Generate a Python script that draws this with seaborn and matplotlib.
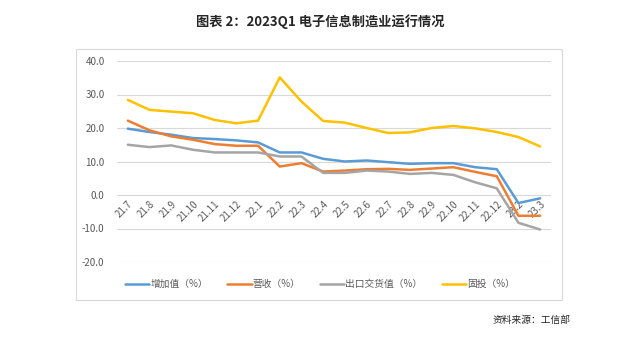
import numpy as np
import pandas as pd
import seaborn as sns
import matplotlib.pyplot as plt
from matplotlib.patches import Rectangle

months = ["21.7", "21.8", "21.9", "21.10", "21.11", "21.12",
          "22.1", "22.2", "22.3", "22.4", "22.5", "22.6", "22.7", "22.8",
          "22.9", "22.10", "22.11", "22.12", "23.2", "23.3"]

added_value = [19.8, 18.8, 18.0, 17.0, 16.7, 16.3, 15.7, 12.7, 12.7, 10.8,
               10.0, 10.3, 9.8, 9.3, 9.5, 9.5, 8.3, 7.7, -2.4, -1.0]
revenue = [22.2, 19.3, 17.5, 16.5, 15.2, 14.7, 14.7, 8.5, 9.5, 7.0,
           7.3, 7.7, 7.8, 7.5, 7.9, 8.3, 6.9, 5.6, -6.2, -6.2]
export_value = [15.0, 14.3, 14.8, 13.5, 12.7, 12.7, 12.7, 11.5, 11.5, 6.6,
                6.6, 7.3, 7.0, 6.3, 6.6, 6.0, 3.8, 2.0, -8.3, -10.3]
investment = [28.4, 25.4, 24.9, 24.4, 22.4, 21.4, 22.2, 35.1, 27.9, 22.1,
              21.6, 20.0, 18.5, 18.7, 20.0, 20.6, 19.9, 18.8, 17.3, 14.5]

series_names = ["增加值（%）", "营收（%）", "出口交货值（%）", "固投（%）"]
colors = ["#5B9BD5", "#ED7D31", "#A5A5A5", "#FFC000"]

sns.set_style("white")
plt.rcParams["font.family"] = ["Noto Sans CJK SC", "DejaVu Sans"]

rows = []
for name, vals in zip(series_names, [added_value, revenue, export_value, investment]):
    for i, v in enumerate(vals):
        rows.append({"idx": i, "value": v, "series": name})
df = pd.DataFrame(rows)

fig = plt.figure(figsize=(6.4, 3.58), dpi=100)
ax = fig.add_axes([117 / 640, 1 - 262 / 358, 434 / 640, 201 / 358])

# outer chart frame
fig.patches.append(Rectangle((76 / 640, 1 - 300 / 358), 486 / 640, 251 / 358,
                             transform=fig.transFigure, fill=False,
                             edgecolor="#D9D9D9", linewidth=0.8))

sns.lineplot(data=df, x="idx", y="value", hue="series", palette=colors,
             linewidth=1.8, sort=False, ax=ax, legend=False)

ax.set_xlim(-0.5, len(months) - 0.5)
ax.set_ylim(-20, 40)
ax.set_yticks(np.arange(-20, 41, 10))
ax.set_yticklabels([f"{v:.1f}" for v in np.arange(-20, 41, 10)],
                   fontsize=7, color="#595959")
ax.grid(axis="y", color="#D9D9D9", linewidth=0.8)
ax.set_axisbelow(True)
for s in ax.spines.values():
    s.set_visible(False)
ax.spines["bottom"].set_position(("data", 0))
ax.tick_params(axis="both", length=0)
ax.tick_params(axis="y", pad=9)
ax.set_xticks(range(len(months)))
ax.set_xticklabels(months, rotation=45, ha="right", rotation_mode="anchor",
                   fontsize=7, color="#595959")
ax.tick_params(axis="x", pad=3)
ax.set_xlabel("")
ax.set_ylabel("")

handles = [plt.Line2D([], [], color=c, linewidth=1.8) for c in colors]
fig.legend(handles, series_names, loc="center", ncol=4, frameon=False,
           bbox_to_anchor=(0.5, 1 - 284 / 358), fontsize=7,
           handlelength=2.5, handletextpad=0.1, columnspacing=2.0,
           labelcolor="#595959")

fig.text(0.5, 1 - 22 / 358, "图表 2：2023Q1 电子信息制造业运行情况",
         ha="center", va="center", fontsize=9.5, fontweight="bold")
fig.text(571 / 640, 1 - 320 / 358, "资料来源：工信部", ha="right", va="center",
         fontsize=7, style="italic", color="#262626")

fig.savefig("out.png", dpi=100)
